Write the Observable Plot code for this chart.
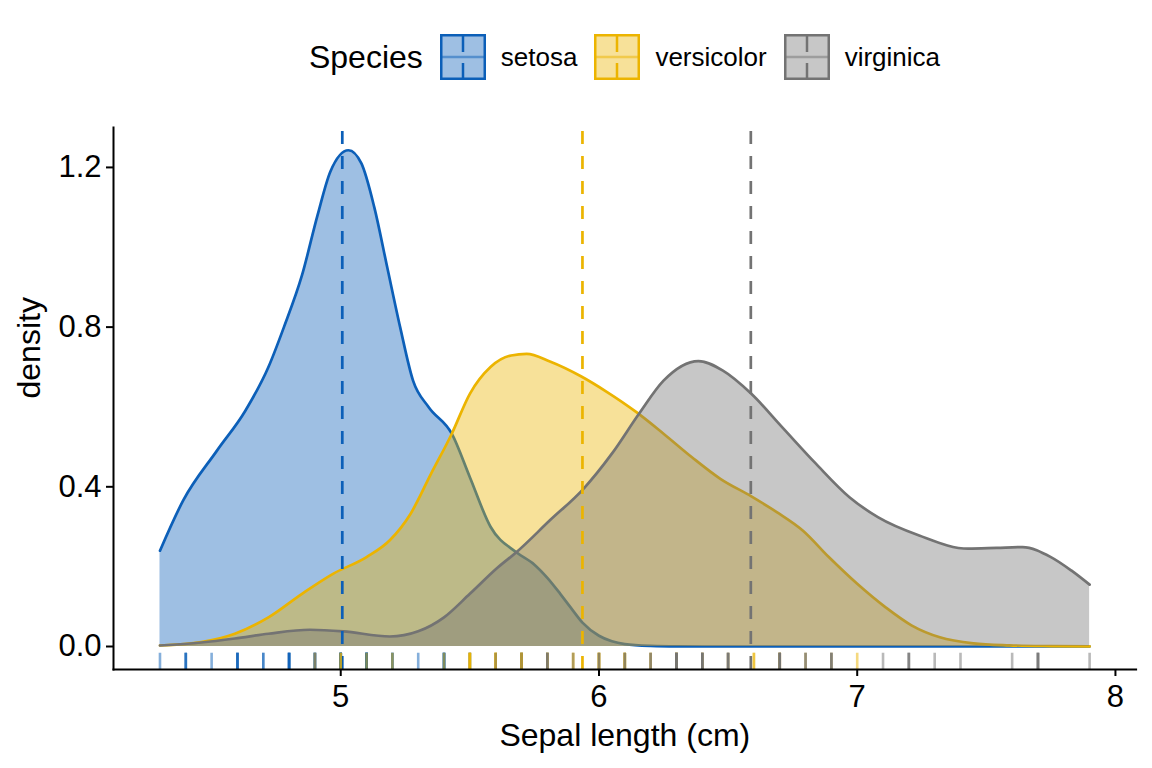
<!DOCTYPE html>
<html>
<head>
<meta charset="utf-8">
<script src="https://cdn.jsdelivr.net/npm/d3@7"></script>
<script src="https://cdn.jsdelivr.net/npm/@observablehq/plot@0.6"></script>
<style>
  html, body { margin: 0; padding: 0; background: #fff; }
  body { width: 1152px; height: 768px; overflow: hidden; font-family: "Liberation Sans", Arial, Helvetica, sans-serif; color: #000; }
  #legend { box-sizing: border-box; height: 100px; padding: 14px 16px 0 113px; display: flex; align-items: center; justify-content: center; }
  #legend .title { font-size: 32px; margin-right: 17px; }
  #legend .item { display: flex; align-items: center; margin-right: 17px; }
  #legend .item:last-child { margin-right: 0; }
  #legend .item svg { margin-right: 15px; display: block; }
  #legend .item span { font-size: 26px; }
  #chart svg { display: block; }
</style>
</head>
<body>
<div id="legend"></div>
<div id="chart"></div>
<script>
// ---- data ----
const species = ["setosa", "versicolor", "virginica"];
const colors = ["#0C5FB8", "#ECB400", "#737373"];
const legendTitle = "Species";

// density curves (x, density)
const setosaX = [4.3, 4.39, 4.52, 4.63, 4.72, 4.78, 4.85, 4.91, 4.96, 5.03, 5.08, 5.13, 5.18, 5.23, 5.28, 5.34, 5.43, 5.5, 5.58, 5.68, 5.75, 5.8, 5.85, 5.89, 5.936, 6.0, 6.05, 6.1, 6.2, 6.3, 6.5, 7.0, 7.5, 7.9];
const setosaY = [0.24, 0.366, 0.49, 0.59, 0.70, 0.80, 0.93, 1.08, 1.19, 1.243, 1.21, 1.10, 0.95, 0.80, 0.666, 0.60, 0.533, 0.424, 0.30, 0.236, 0.205, 0.172, 0.132, 0.098, 0.06, 0.027, 0.013, 0.006, 0.0015, 0.0003, 0, 0, 0, 0];

const versicolorX = [4.3, 4.46, 4.59, 4.72, 4.85, 4.97, 5.1, 5.19, 5.27, 5.35, 5.43, 5.5, 5.58, 5.66, 5.72, 5.81, 5.93, 6.03, 6.145, 6.25, 6.36, 6.47, 6.59, 6.69, 6.79, 6.89, 7.0, 7.11, 7.21, 7.32, 7.45, 7.59, 7.75, 7.9];
const versicolorY = [0.0025, 0.011, 0.032, 0.073, 0.132, 0.182, 0.224, 0.266, 0.332, 0.433, 0.533, 0.633, 0.70, 0.729, 0.733, 0.714, 0.677, 0.638, 0.587, 0.533, 0.474, 0.42, 0.376, 0.336, 0.29, 0.224, 0.157, 0.098, 0.053, 0.023, 0.008, 0.003, 0.001, 0.0003];

const virginicaX = [4.3, 4.46, 4.59, 4.72, 4.88, 5.01, 5.19, 5.3, 5.4, 5.5, 5.61, 5.68, 5.81, 5.94, 6.05, 6.155, 6.25, 6.385, 6.48, 6.59, 6.71, 6.84, 6.97, 7.08, 7.24, 7.43, 7.54, 7.64, 7.75, 7.83, 7.9];
const virginicaY = [0.0025, 0.01, 0.02, 0.032, 0.042, 0.038, 0.025, 0.038, 0.073, 0.132, 0.199, 0.236, 0.316, 0.395, 0.483, 0.583, 0.666, 0.715, 0.691, 0.633, 0.549, 0.458, 0.374, 0.324, 0.278, 0.245, 0.247, 0.249, 0.224, 0.19, 0.155];

// group means (dashed lines)
const means = [5.006, 5.936, 6.588];

// rug: observed sepal lengths
const setosaSepal = [5.1,4.9,4.7,4.6,5.0,5.4,4.6,5.0,4.4,4.9,5.4,4.8,4.8,4.3,5.8,5.7,5.4,5.1,5.7,5.1,5.4,5.1,4.6,5.1,4.8,5.0,5.0,5.2,5.2,4.7,4.8,5.4,5.2,5.5,4.9,5.0,5.5,4.9,4.4,5.1,5.0,4.5,4.4,5.0,5.1,4.8,5.1,4.6,5.3,5.0];
const versicolorSepal = [7.0,6.4,6.9,5.5,6.5,5.7,6.3,4.9,6.6,5.2,5.0,5.9,6.0,6.1,5.6,6.7,5.6,5.8,6.2,5.6,5.9,6.1,6.3,6.1,6.4,6.6,6.8,6.7,6.0,5.7,5.5,5.5,5.8,6.0,5.4,6.0,6.7,6.3,5.6,5.5,5.5,6.1,5.8,5.0,5.6,5.7,5.7,6.2,5.1,5.7];
const virginicaSepal = [6.3,5.8,7.1,6.3,6.5,7.6,4.9,7.3,6.7,7.2,6.5,6.4,6.8,5.7,5.8,6.4,6.5,7.7,7.7,6.0,6.9,5.6,7.7,6.3,6.7,7.2,6.2,6.1,6.4,7.2,7.4,7.9,6.4,6.3,6.1,7.7,6.3,6.4,6.0,6.9,6.7,6.9,5.8,6.8,6.7,6.7,6.3,6.5,6.2,5.9];

const xTicks = [5, 6, 7, 8];
const yTicks = [0, 0.4, 0.8, 1.2];
const xLabel = "Sepal length (cm)";
const yLabel = "density";

// ---- tables ----
const curveX = [setosaX, versicolorX, virginicaX];
const curveY = [setosaY, versicolorY, virginicaY];
const density = species.flatMap((s, i) => curveX[i].map((x, j) => ({species: s, x, y: curveY[i][j]})));
const meanTable = species.map((s, i) => ({species: s, mean: means[i]}));
const rugLists = [setosaSepal, versicolorSepal, virginicaSepal];
const rug = species.flatMap((s, i) => rugLists[i].map(v => ({species: s, value: v})));

const xDomain = [4.12, 8.08];
const yDomain = [-0.0576, 1.30];
const rugLen = 0.03 * (yDomain[1] - yDomain[0]);
const fillAlpha = 0.4;

const marks = [];
species.forEach(s => {
  const d = density.filter(r => r.species === s);
  marks.push(Plot.areaY(d, {x: "x", y: "y", fill: "species", fillOpacity: fillAlpha, curve: "monotone-x"}));
  marks.push(Plot.lineY(d, {x: "x", y: "y", stroke: "species", strokeWidth: 2.7, curve: "monotone-x"}));
});
marks.push(Plot.ruleX(meanTable, {x: "mean", y1: () => yDomain[0], y2: () => yDomain[1], stroke: "species", strokeWidth: 2.7, strokeDasharray: "13,12"}));
marks.push(Plot.ruleX(rug, {x: "value", y1: () => yDomain[0], y2: () => yDomain[0] + rugLen, stroke: "species", strokeOpacity: 0.5, strokeWidth: 2.6}));
marks.push(Plot.frame({anchor: "left", stroke: "#000", strokeWidth: 2}));
marks.push(Plot.frame({anchor: "bottom", stroke: "#000", strokeWidth: 2}));
marks.push(Plot.axisY({ticks: yTicks, tickFormat: d3.format(".1f"), tickSize: 7, tickPadding: 5, strokeWidth: 2, fontSize: 31, label: null}));
marks.push(Plot.axisX({ticks: xTicks, tickFormat: d3.format("d"), tickSize: 7, tickPadding: 8, strokeWidth: 2, fontSize: 31, label: null}));
marks.push(Plot.text([xLabel], {frameAnchor: "bottom", dy: 76, fontSize: 32, fill: "#000"}));
marks.push(Plot.text([yLabel], {frameAnchor: "left", dx: -84, rotate: -90, fontSize: 32, fill: "#000"}));

const chart = Plot.plot({
  width: 1152,
  height: 668,
  marginTop: 27,
  marginBottom: 99,
  marginLeft: 113,
  marginRight: 16.4,
  x: {domain: xDomain},
  y: {domain: yDomain},
  color: {domain: species, range: colors},
  style: {fontFamily: "'Liberation Sans', Arial, Helvetica, sans-serif", color: "#000", background: "#fff", overflow: "visible"},
  marks
});
document.getElementById("chart").appendChild(chart);

// ---- legend (HTML, above the plot) ----
const legend = document.getElementById("legend");
const t = document.createElement("span");
t.className = "title";
t.textContent = legendTitle;
legend.appendChild(t);
const ns = "http://www.w3.org/2000/svg";
species.forEach((s, i) => {
  const item = document.createElement("div");
  item.className = "item";
  const svg = document.createElementNS(ns, "svg");
  svg.setAttribute("width", 46);
  svg.setAttribute("height", 46);
  svg.setAttribute("overflow", "visible");
  const rect = document.createElementNS(ns, "rect");
  rect.setAttribute("x", 1.25); rect.setAttribute("y", 1.25);
  rect.setAttribute("width", 43.5); rect.setAttribute("height", 43.5);
  rect.setAttribute("fill", colors[i]); rect.setAttribute("fill-opacity", fillAlpha);
  rect.setAttribute("stroke", colors[i]); rect.setAttribute("stroke-width", 2.5);
  svg.appendChild(rect);
  const h = document.createElementNS(ns, "line");
  h.setAttribute("x1", 1.25); h.setAttribute("x2", 44.75); h.setAttribute("y1", 23); h.setAttribute("y2", 23);
  h.setAttribute("stroke", colors[i]); h.setAttribute("stroke-opacity", 0.5); h.setAttribute("stroke-width", 2.5);
  svg.appendChild(h);
  const v = document.createElementNS(ns, "line");
  v.setAttribute("x1", 23); v.setAttribute("x2", 23); v.setAttribute("y1", 1); v.setAttribute("y2", 47);
  v.setAttribute("stroke", colors[i]); v.setAttribute("stroke-width", 2.5); v.setAttribute("stroke-dasharray", "17,11");
  svg.appendChild(v);
  item.appendChild(svg);
  const lab = document.createElement("span");
  lab.textContent = s;
  item.appendChild(lab);
  legend.appendChild(item);
});
</script>
</body>
</html>
